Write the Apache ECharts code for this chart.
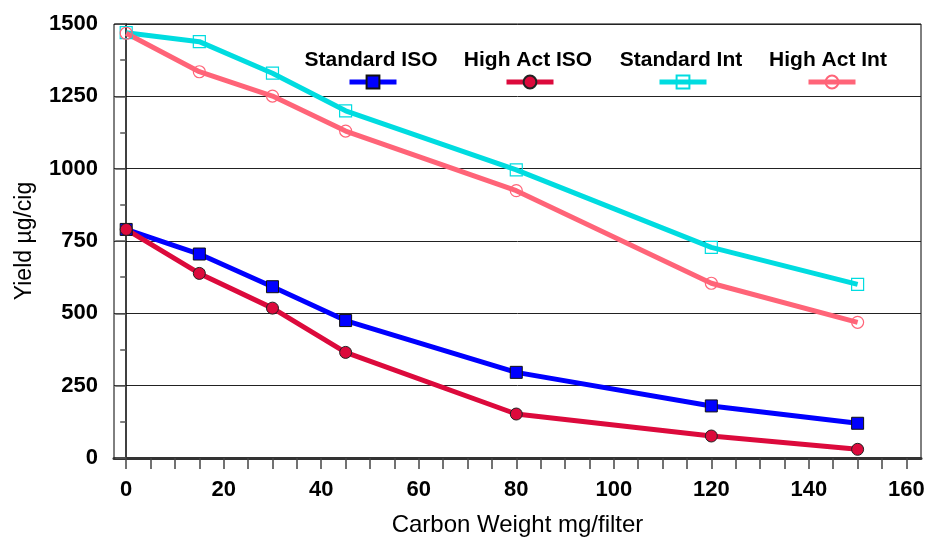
<!DOCTYPE html>
<html>
<head>
<meta charset="utf-8">
<script src="https://cdn.jsdelivr.net/npm/echarts@6/dist/echarts.min.js"></script>
<style>
html,body{margin:0;padding:0;background:#fff;}
#chart{width:930px;height:538px;}
</style>
</head>
<body>
<div id="chart"></div>
<script>
const carbonWeight = [0, 15, 30, 45, 80, 120, 150];
const standardISO = [790, 705, 592, 475, 296, 180, 120];
const highActISO = [790, 638, 518, 365, 152, 76, 30];
const standardInt = [1470, 1439, 1330, 1200, 996, 728, 600];
const highActInt = [1468, 1335, 1251, 1130, 924, 604, 469];
const seriesNames = ['Standard ISO', 'High Act ISO', 'Standard Int', 'High Act Int'];
const xTickValues = [0,5,10,15,20,25,30,35,40,45,50,55,60,65,70,75,80,85,90,95,100,105,110,115,120,125,130,135,140,145,150,155,160];
const xLabelValues = [0, 20, 40, 60, 80, 100, 120, 140, 160];

function pairs(ys) { return carbonWeight.map((x, i) => [x, ys[i]]); }

const FONT = 'Arial, "Liberation Sans", Helvetica, sans-serif';
const chart = echarts.init(document.getElementById('chart'));

const legendLeft = [347, 504, 657, 806];
const legendCenter = [371, 528, 681, 828];

const option = {
  animation: false,
  backgroundColor: '#fff',
  grid: { left: 114, top: 24, right: 9, bottom: 80, show: true, borderColor: '#000', borderWidth: 1,
    outerBoundsMode: 'none', containLabel: false },
  legend: seriesNames.map((n, i) => ({
    data: [n], left: legendLeft[i], top: 74, padding: 0, itemWidth: 47, itemHeight: 16,
    formatter: () => '', selectedMode: false,
    lineStyle: { width: 5 }
  })),
  graphic: seriesNames.map((n, i) => ({
    type: 'text', x: legendCenter[i], y: 60,
    style: { text: n, font: 'bold 21px ' + FONT, fill: '#000', align: 'center', verticalAlign: 'middle' }
  })),
  xAxis: {
    type: 'value', min: -2.5, max: 163,
    name: 'Carbon Weight mg/filter', nameLocation: 'middle', nameGap: 55,
    nameTextStyle: { fontFamily: FONT, fontSize: 24, color: '#000' },
    axisLine: { show: true, onZero: false, lineStyle: { color: '#333', width: 3 } },
    axisTick: { show: true, length: 11, customValues: xTickValues, lineStyle: { color: '#444', width: 1.5 } },
    axisLabel: { customValues: xLabelValues, margin: 21, fontFamily: FONT, fontSize: 22, fontWeight: 'bold', color: '#000',
      formatter: v => String(v) },
    splitLine: { show: false }
  },
  yAxis: {
    type: 'value', min: 0, max: 1500, interval: 250,
    name: 'Yield µg/cig', nameLocation: 'middle', nameGap: 78,
    nameTextStyle: { fontFamily: FONT, fontSize: 23, color: '#000' },
    axisLine: { show: true, lineStyle: { color: '#000', width: 1.5 } },
    axisTick: { show: true, length: 11, lineStyle: { color: '#555', width: 1.5 } },
    minorTick: { show: true, splitNumber: 2, length: 6, lineStyle: { color: '#555', width: 1.5 } },
    axisLabel: { margin: 16, fontFamily: FONT, fontSize: 22, fontWeight: 'bold', color: '#000',
      formatter: v => String(v) },
    splitLine: { show: true, lineStyle: { color: '#222', width: 1 } }
  },
  series: [
    {
      name: seriesNames[0], type: 'line', data: pairs(standardISO),
      symbol: 'rect', symbolSize: 12,
      lineStyle: { color: '#0000FF', width: 5 },
      itemStyle: { color: '#0000FF', borderColor: '#111', borderWidth: 1 }
    },
    {
      name: seriesNames[1], type: 'line', data: pairs(highActISO),
      symbol: 'circle', symbolSize: 12,
      lineStyle: { color: '#DC0A3C', width: 5 },
      itemStyle: { color: '#DC0A3C', borderColor: '#222', borderWidth: 1 }
    },
    {
      name: seriesNames[2], type: 'line', data: pairs(standardInt),
      symbol: 'rect', symbolSize: 12,
      lineStyle: { color: '#00DCE0', width: 5 },
      itemStyle: { color: 'rgba(255,255,255,0)', borderColor: '#00DCE0', borderWidth: 1.2 }
    },
    {
      name: seriesNames[3], type: 'line', data: pairs(highActInt),
      symbol: 'circle', symbolSize: 12,
      lineStyle: { color: '#FF6478', width: 5 },
      itemStyle: { color: 'rgba(255,255,255,0)', borderColor: '#FF6478', borderWidth: 1.2 }
    }
  ]
};
chart.setOption(option);
</script>
</body>
</html>
